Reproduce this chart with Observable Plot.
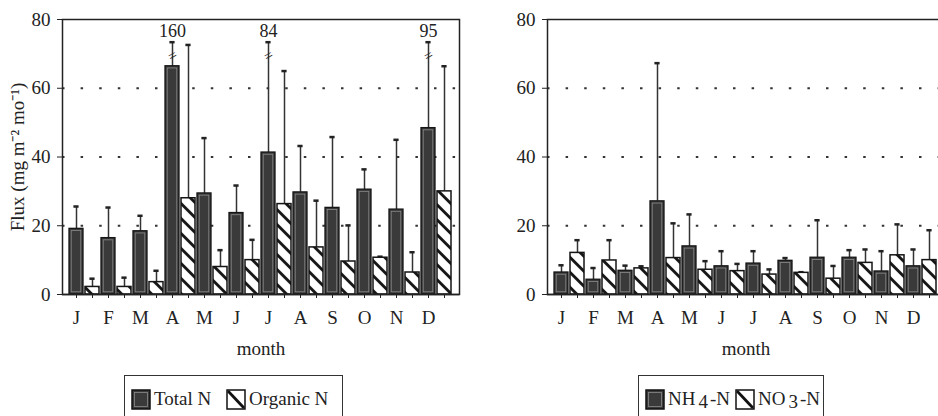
<!DOCTYPE html>
<html><head><meta charset="utf-8">
<script src="https://cdn.jsdelivr.net/npm/d3@7"></script>
<script src="https://cdn.jsdelivr.net/npm/@observablehq/plot@0.6"></script>
<style>
body{margin:0;width:938px;height:416px;overflow:hidden;background:#fff;position:relative;font-family:"Liberation Serif","Times New Roman",serif;color:#222}
#left{position:absolute;left:0;top:0;width:470px}
#right{position:absolute;left:485px;top:0;width:470px}
#left svg,#right svg{max-width:none !important}
.legend{position:absolute;top:375px;height:60px;border:1.5px solid #333;box-sizing:border-box;font-size:19px}
.legend .item{position:absolute;top:12px;display:flex;align-items:center;white-space:nowrap}
.legend svg{margin-right:3px}
.sub{position:relative;top:3px;margin:0 2px 0 3px}
</style></head>
<body>
<svg width="0" height="0" style="position:absolute">
  <defs>
    <pattern id="hatch" patternUnits="userSpaceOnUse" width="10.6" height="10.6" patternTransform="rotate(45)">
      <rect width="10.6" height="10.6" fill="#fff"></rect>
      <line x1="0" y1="5.3" x2="10.6" y2="5.3" stroke="#111" stroke-width="2.8"></line>
    </pattern>
  </defs>
</svg>
<div id="left"></div>
<div id="right"></div>
<div class="legend" style="left:124px;width:219px">
  <div class="item" style="left:6px">
    <svg width="20" height="21"><rect x="1" y="1" width="18" height="19" fill="#3a3a3a" stroke="#111" stroke-width="1.5"></rect><rect x="3.5" y="3.5" width="13" height="14" fill="none" stroke="#8a8a8a" stroke-width="0.8"></rect></svg>Total N
  </div>
  <div class="item" style="left:101px">
    <svg width="20" height="21"><rect x="1" y="1" width="18" height="19" fill="#fff" stroke="#111" stroke-width="1.5"></rect><line x1="2" y1="2" x2="18" y2="19" stroke="#111" stroke-width="2.8"></line></svg>Organic N
  </div>
</div>
<div class="legend" style="left:638px;width:186px">
  <div class="item" style="left:6px">
    <svg width="20" height="21"><rect x="1" y="1" width="18" height="19" fill="#3a3a3a" stroke="#111" stroke-width="1.5"></rect><rect x="3.5" y="3.5" width="13" height="14" fill="none" stroke="#8a8a8a" stroke-width="0.8"></rect></svg>NH<span class="sub">4</span>-N
  </div>
  <div class="item" style="left:96px">
    <svg width="20" height="21"><rect x="1" y="1" width="18" height="19" fill="#fff" stroke="#111" stroke-width="1.5"></rect><line x1="2" y1="2" x2="18" y2="19" stroke="#111" stroke-width="2.8"></line></svg>NO<span class="sub">3</span>-N
  </div>
</div>
<script>
const months = ["J","F","M","A","M","J","J","A","S","O","N","D"];
// left panel: Total N and Organic N (mean, and top of error bar)
const totalN        = [19.1, 16.4, 18.4, 66.4, 29.4, 23.7, 41.3, 29.7, 25.2, 30.5, 24.7, 48.4];
const totalNUpper   = [25.6, 25.3, 22.9, 160,  45.5, 31.7, 84,   43.2, 45.8, 36.4, 45.0, 95];
const organicN      = [2.2, 2.2, 3.6, 28.0, 8.0, 10.0, 26.3, 13.7, 9.6, 10.7, 6.4, 30.0];
const organicNUpper = [4.6, 4.9, 6.9, 72.6, 12.9, 15.9, 65.0, 27.3, 20.1, 11.0, 12.3, 66.4];
// right panel: NH4-N and NO3-N
const nh4      = [6.4, 4.3, 6.9, 27.1, 14.0, 8.2, 9.0, 9.8, 10.7, 10.7, 6.7, 8.2];
const nh4Upper = [8.5, 7.7, 8.4, 67.3, 23.3, 12.6, 12.6, 10.6, 21.6, 12.9, 12.6, 13.1];
const no3      = [12.1, 9.9, 7.6, 10.6, 7.2, 6.8, 5.8, 6.3, 4.6, 9.2, 11.4, 10.0];
const no3Upper = [15.8, 15.8, 8.2, 20.7, 9.7, 8.9, 7.3, 6.5, 8.3, 13.1, 20.4, 18.7];
const yTicks = [0, 20, 40, 60, 80];
const gridValues = [20, 40, 60];
const yMax = 80, clipAt = 73.4, breakAt = 69.5, breakLabelAt = 76.5;

function panel(a, aUp, b, bUp, yLabel) {
  const rows = [];
  months.forEach((m, i) => {
    rows.push({slot: 2*i, v: a[i], up: aUp[i], kind: "solid"});
    rows.push({slot: 2*i+1, v: b[i], up: bUp[i], kind: "hatch"});
  });
  rows.forEach(d => { d.top = Math.min(d.up, clipAt); d.broken = d.up > yMax; d.brk = breakAt; d.lab = breakLabelAt; });
  const solid = rows.filter(d => d.kind === "solid");
  const hatch = rows.filter(d => d.kind === "hatch");
  const broken = rows.filter(d => d.broken);
  return Plot.plot({
    width: 470, height: 365,
    marginLeft: 62, marginRight: 11, marginTop: 19, marginBottom: 71,
    style: {fontFamily: "Liberation Serif, Times New Roman, serif", fontSize: "19px", color: "#222", background: "transparent", overflow: "visible", maxWidth: "none"},
    x: {type: "band", domain: d3.range(24), padding: 0.1, tickFormat: i => i % 2 ? "" : months[i/2],
        tickSize: 4, tickPadding: 12, label: "month", labelAnchor: "center", labelOffset: 60, labelArrow: "none"},
    y: {domain: [0, yMax], ticks: yTicks, tickSize: 5, tickPadding: 7,
        label: yLabel, labelAnchor: "center", labelOffset: 52, labelArrow: "none"},
    marks: [
      Plot.ruleY(gridValues, {stroke: "#333", strokeWidth: 2, strokeDasharray: "2.5,16.1"}),
      Plot.ruleX(rows, {x: "slot", y1: "v", y2: "top", stroke: "#333", strokeWidth: 1.5}),
      Plot.tickY(rows, {x: "slot", y: "top", insetLeft: 4.4, insetRight: 4.4, stroke: "#222", strokeWidth: 2.5}),
      Plot.barY(solid, {x: "slot", y: "v", fill: "#3a3a3a", stroke: "#151515", strokeWidth: 1.3}),
      Plot.barY(solid, {x: "slot", y: "v", fill: "none", stroke: "#8a8a8a", strokeWidth: 0.8, inset: 2.2}),
      Plot.barY(hatch, {x: "slot", y: "v", fill: "url(#hatch)", stroke: "#151515", strokeWidth: 1.5}),
      Plot.text(broken, {x: "slot", y: "brk", text: () => "=", rotate: -30, fontSize: 15, fill: "#222"}),
      Plot.text(broken, {x: "slot", y: "lab", text: d => String(d.up), fontSize: 18, fill: "#222"}),
      Plot.ruleY([0], {stroke: "#222", strokeWidth: 1.5}),
      Plot.frame({stroke: "#222", strokeWidth: 1.5})
    ]
  });
}
document.getElementById("left").append(panel(totalN, totalNUpper, organicN, organicNUpper, "Flux (mg m⁻² mo⁻¹)"));
document.getElementById("right").append(panel(nh4, nh4Upper, no3, no3Upper, null));
</script>
</body></html>
